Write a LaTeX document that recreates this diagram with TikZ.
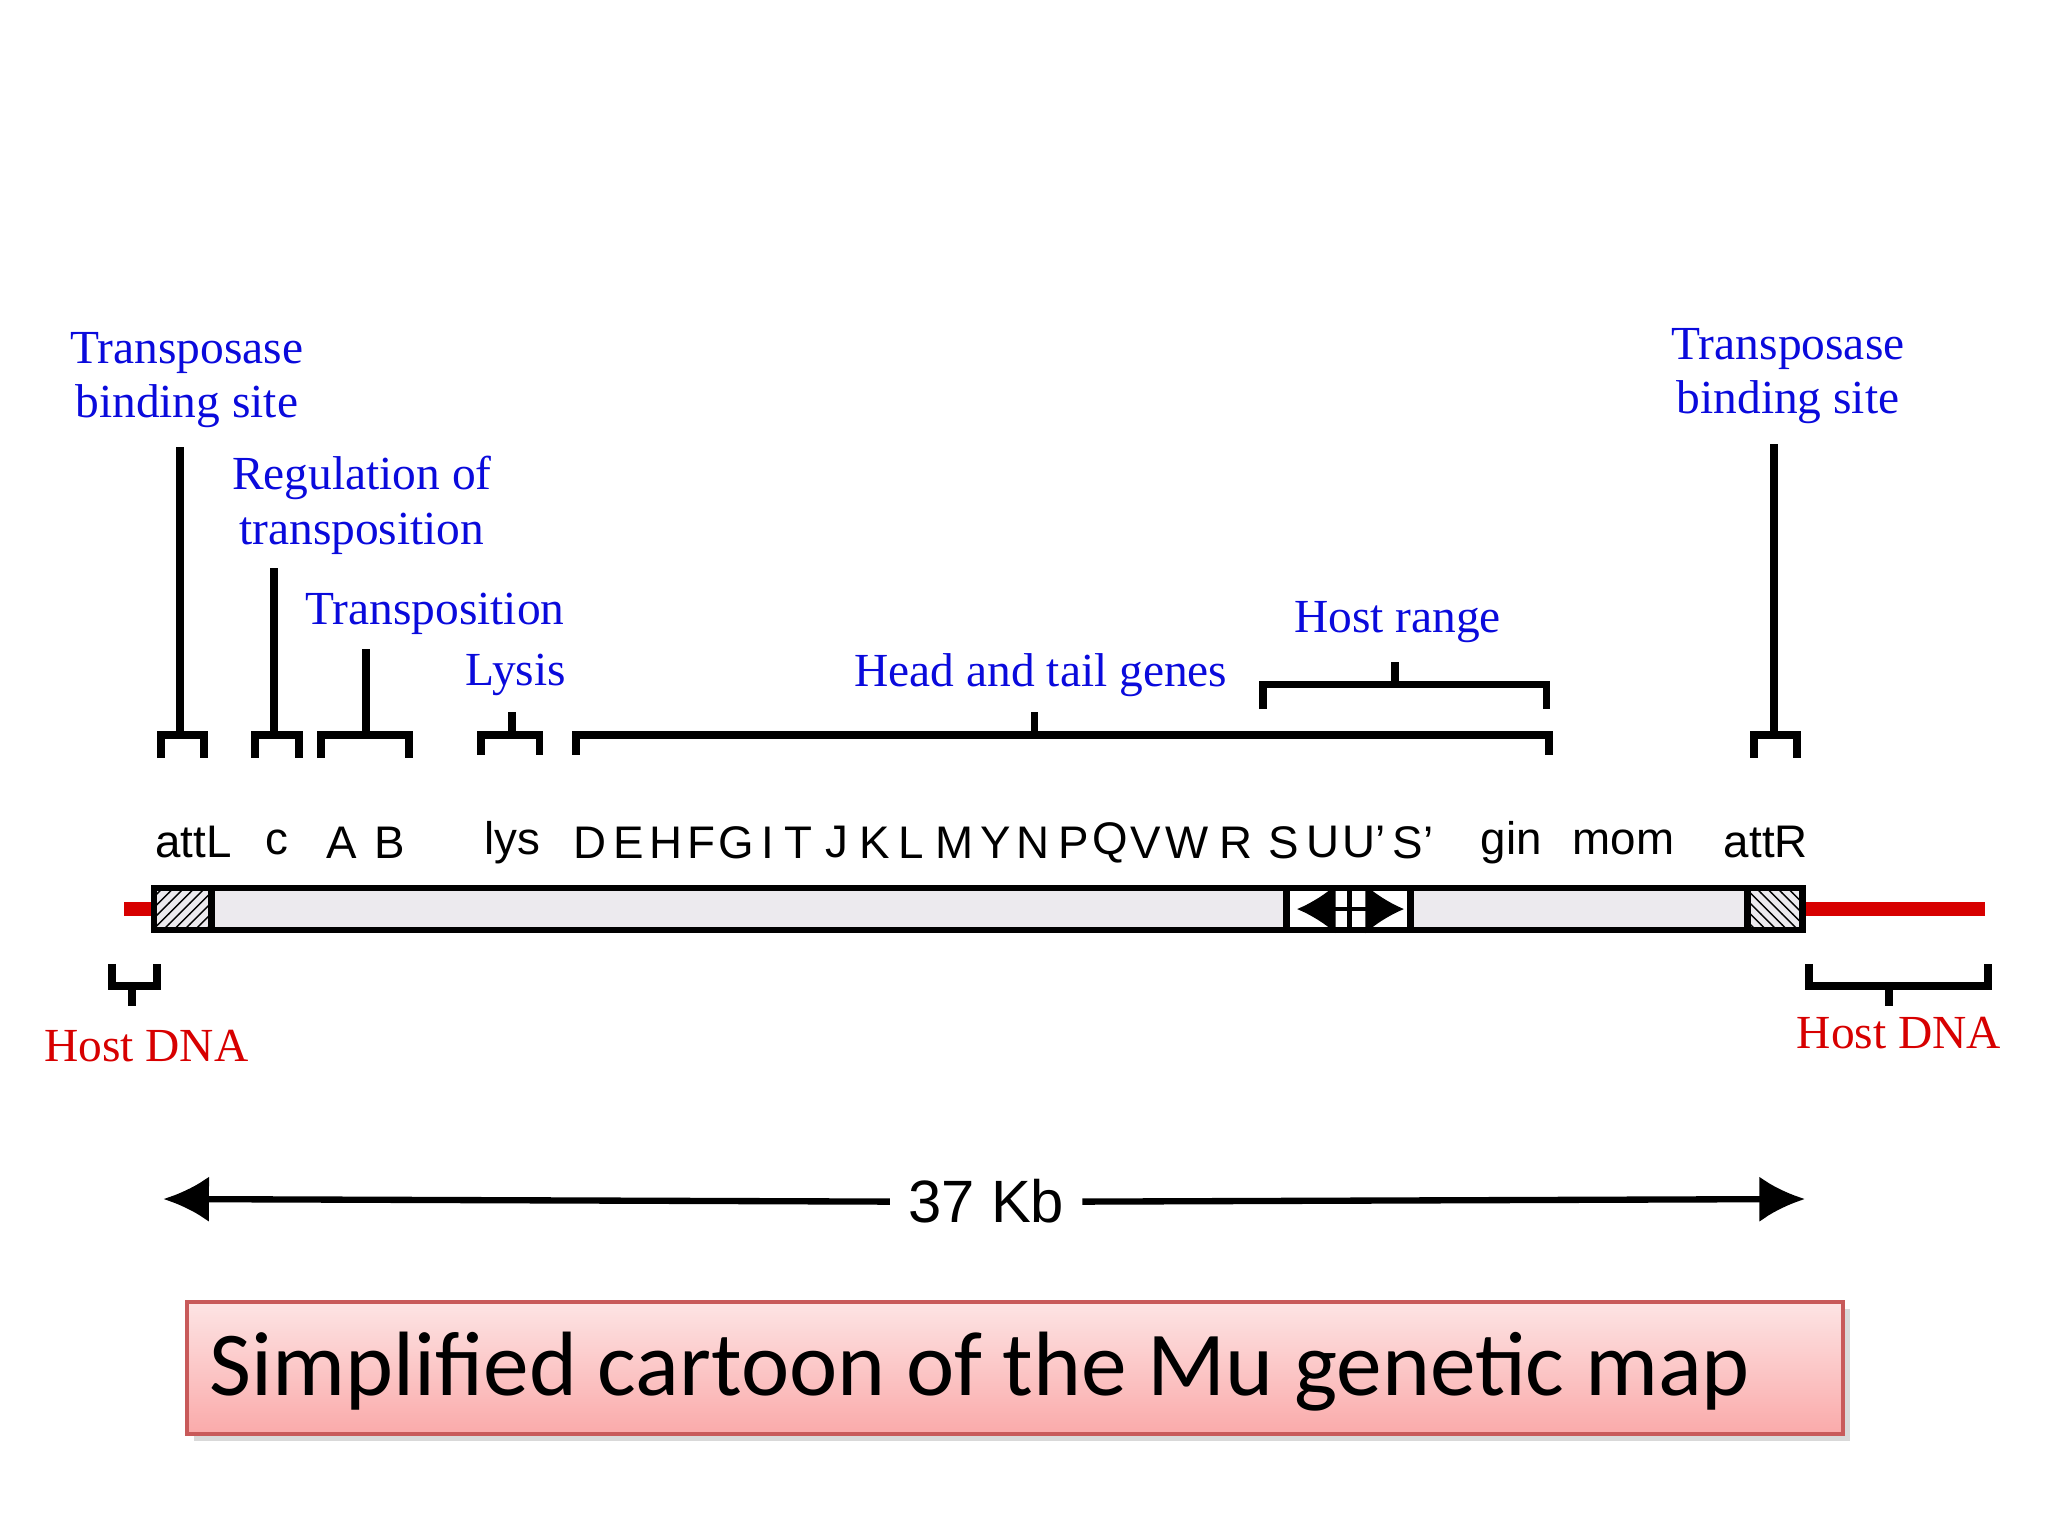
\documentclass[tikz,border=0pt]{standalone}
\usepackage{fontspec}
\setmainfont{Liberation Serif}
\setsansfont{Liberation Sans}
\newfontfamily\capfont{Carlito}
\usetikzlibrary{patterns,arrows.meta,shadows}
\definecolor{barfill}{RGB}{236,234,238}
\definecolor{lblue}{RGB}{10,10,220}
\definecolor{hred}{RGB}{215,0,0}
\definecolor{boxtop}{RGB}{253,228,228}
\definecolor{boxbot}{RGB}{250,170,170}
\definecolor{boxline}{RGB}{200,90,90}
\tikzset{
 brk/.style={line width=2.2pt},
 blbl/.style={text=lblue,font=\fontsize{13.5}{15.5}\selectfont,align=center,inner sep=0pt},
 glbl/.style={font=\sffamily\fontsize{13}{15}\selectfont,inner sep=0pt},
 hlbl/.style={text=hred,font=\fontsize{13.5}{16}\selectfont,inner sep=0pt},
}
\begin{document}
\begin{tikzpicture}[x=0.01306cm,y=-0.01306cm]
\useasboundingbox (0,0) rectangle (1568,1176);
% host DNA
\draw[hred,line width=4pt] (95,696) -- (118,696);
\draw[hred,line width=4pt] (1380,696) -- (1520,696);
% bar
\draw[line width=1.8pt,fill=barfill] (118,680) rectangle (1380,712);
\draw[line width=1.8pt,fill=white,pattern=north east lines] (118,680) rectangle (162,712);
\draw[line width=1.8pt,pattern=north west lines] (1338,680) rectangle (1380,712);
\draw[line width=1.8pt,fill=white] (985,680) rectangle (1080,712);
\draw[line width=1.5pt] (1033,680) -- (1033,712);
\draw[line width=1.2pt,-{Latex[length=11pt,width=14pt]}] (1033,696) -- (993,696);
\draw[line width=1.2pt,-{Latex[length=11pt,width=14pt]}] (1033,696) -- (1075,696);
% gene labels
\node[glbl] (attL) at (148,645) {attL};
\node[glbl] (c) at (212,645) {c};
\node[glbl] (AB) at (280,645) {A\hspace{0.4em}B};
\node[glbl] (lys) at (392,645) {lys};
\foreach \g/\x [count=\i] in {D/452,E/481,H/510,F/537,G/564,I/588,T/611,J/641,K/670,L/698,M/731,Y/762,N/791,P/822,Q/850,V/877,W/909,R/946,S/983,U/1013,U'/1044,S'/1082}
  \node[glbl] (gene\i) at (\x,645) {\g};
\node[glbl] (gin) at (1157,645) {gin};
\node[glbl] (mom) at (1243,645) {mom};
\node[glbl] (attR) at (1352,645) {attR};
% top brackets
\draw[brk] (123,580) -- (123,563) -- (156,563) -- (156,580);
\draw[brk] (195,580) -- (195,563) -- (229,563) -- (229,580);
\draw[brk] (246,580) -- (246,563) -- (313,563) -- (313,580);
\draw[brk] (368,578) -- (368,563) -- (413,563) -- (413,578);
\draw[brk] (441,578) -- (441,563) -- (1186,563) -- (1186,578);
\draw[brk] (967,543) -- (967,524) -- (1184,524) -- (1184,543);
\draw[brk] (1343,580) -- (1343,563) -- (1376,563) -- (1376,580);
% blue labels
\node[blbl] (tbs1) at (143,291) {Transposase\\binding site};
\node[blbl] (reg) at (277,387) {Regulation of\\transposition};
\node[blbl] (trans) at (333,470) {Transposition};
\node[blbl] (lysis) at (395,517) {Lysis};
\node[blbl] (head) at (797,517) {Head and tail genes};
\node[blbl] (host) at (1070,476) {Host range};
\node[blbl] (tbs2) at (1369,288) {Transposase\\binding site};
\draw[brk] (138,563) -- (138,342);
\draw[brk] (210,563) -- (210,435);
\draw[brk] (280,563) -- (280,497);
\draw[brk] (392,563) -- (392,545);
\draw[brk] (792,563) -- (792,545);
\draw[brk] (1068,524) -- (1068,507);
\draw[brk] (1358,563) -- (1358,340);
% bottom brackets
\draw[brk] (86,738) -- (86,755) -- (120,755) -- (120,738);
\draw[brk] (101,755) -- (101,770);
\draw[brk] (1385,738) -- (1385,755) -- (1522,755) -- (1522,738);
\draw[brk] (1446,755) -- (1446,770);
\node[hlbl] (h1) at (112,801) {Host DNA};
\node[hlbl] (h2) at (1454,791) {Host DNA};
% 37 Kb
\node[font=\sffamily\fontsize{17}{20}\selectfont,inner sep=5pt] (kb) at (755,920) {37 Kb};
\draw[line width=1.8pt,-{Latex[length=13pt,width=13pt]}] (kb.west) -- (125,918);
\draw[line width=1.8pt,-{Latex[length=13pt,width=13pt]}] (kb.east) -- (1382,918);
% caption
\node[draw=boxline,line width=1pt,top color=boxtop,bottom color=boxbot,
 drop shadow={shadow xshift=2pt,shadow yshift=-2pt,opacity=0.3},
 minimum width=1268*0.01306cm,minimum height=101*0.01306cm,inner sep=0pt] (cap) at (777,1047.5) {};
\node[anchor=west,font=\capfont\fontsize{26}{31}\selectfont,inner sep=0pt] (captxt) at (160,1050) {Simplified cartoon of the Mu genetic map};
\end{tikzpicture}
\end{document}
